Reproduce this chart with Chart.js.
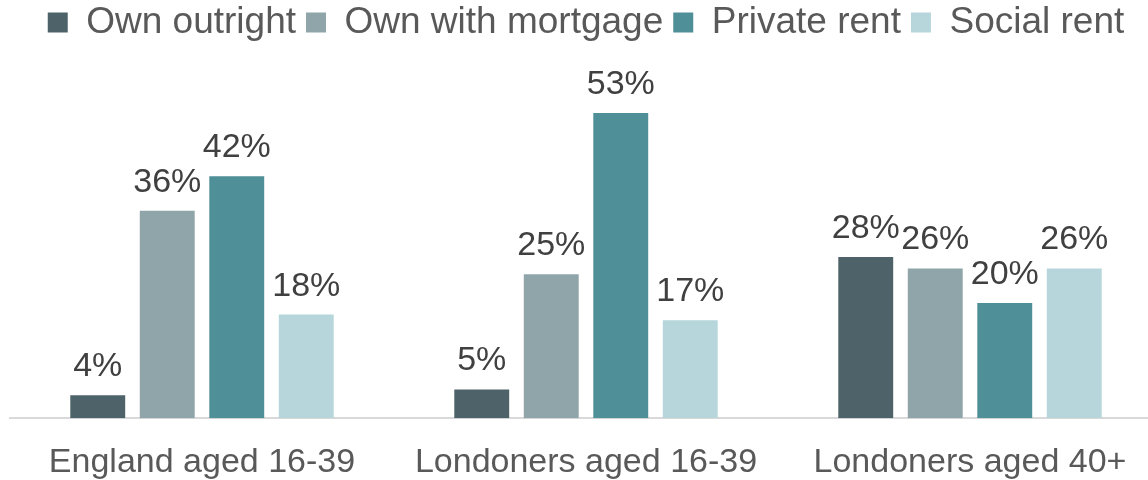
<!DOCTYPE html>
<html lang="en">
<head>
  <meta charset="UTF-8">
  <title>Housing tenure by age</title>
  <script src="https://cdn.jsdelivr.net/npm/chart.js"></script>
  <style>
    html, body { margin: 0; padding: 0; background: #fff; overflow: hidden; }
    #wrap { width: 1162px; height: 480px; }
  </style>
</head>
<body>
  <div id="wrap"><canvas id="tenureChart"></canvas></div>

  <script>
    const categories = ['England aged 16-39', 'Londoners aged 16-39', 'Londoners aged 40+'];
    const seriesNames = ['Own outright', 'Own with mortgage', 'Private rent', 'Social rent'];
    const ownOutright = [4, 5, 28];
    const ownMortgage = [36, 25, 26];
    const privateRent = [42, 53, 20];
    const socialRent = [18, 17, 26];
    const colours = ['#4e6269', '#8fa5aa', '#4f8f98', '#b6d6db'];

    const font = "'Liberation Sans', Arial, sans-serif";

    // value labels above each bar
    const barLabels = {
      id: 'barLabels',
      afterDatasetsDraw(chart) {
        const ctx = chart.ctx;
        ctx.save();
        ctx.font = '34px ' + font;
        ctx.fillStyle = '#404040';
        ctx.textAlign = 'center';
        ctx.textBaseline = 'alphabetic';
        chart.data.datasets.forEach((ds, i) => {
          chart.getDatasetMeta(i).data.forEach((bar, j) => {
            ctx.fillText(ds.data[j] + '%', bar.x, bar.y - 19);
          });
        });
        ctx.restore();
      }
    };

    const allSeries = [ownOutright, ownMortgage, privateRent, socialRent];

    new Chart(document.getElementById('tenureChart'), {
      type: 'bar',
      data: {
        labels: categories,
        datasets: allSeries.map((d, i) => ({
          label: seriesNames[i],
          data: d,
          backgroundColor: colours[i],
          categoryPercentage: 0.724,
          barPercentage: 0.79
        }))
      },
      options: {
        responsive: true,
        maintainAspectRatio: false,
        animation: false,
        layout: { padding: { left: 10, right: 0, top: -6, bottom: -19 } },
        plugins: {
          legend: {
            position: 'top',
            labels: {
              font: { family: font, size: 37 },
              color: '#595959',
              boxWidth: 20,
              boxHeight: 20,
              padding: 10
            }
          },
          tooltip: { enabled: false }
        },
        scales: {
          x: {
            grid: { display: false },
            border: { color: '#d9d9d9', width: 2 },
            ticks: { font: { family: font, size: 34 }, color: '#595959', padding: 16 }
          },
          y: {
            display: false,
            min: 0,
            max: 63.75
          }
        }
      },
      plugins: [barLabels]
    });
  </script>
</body>
</html>
